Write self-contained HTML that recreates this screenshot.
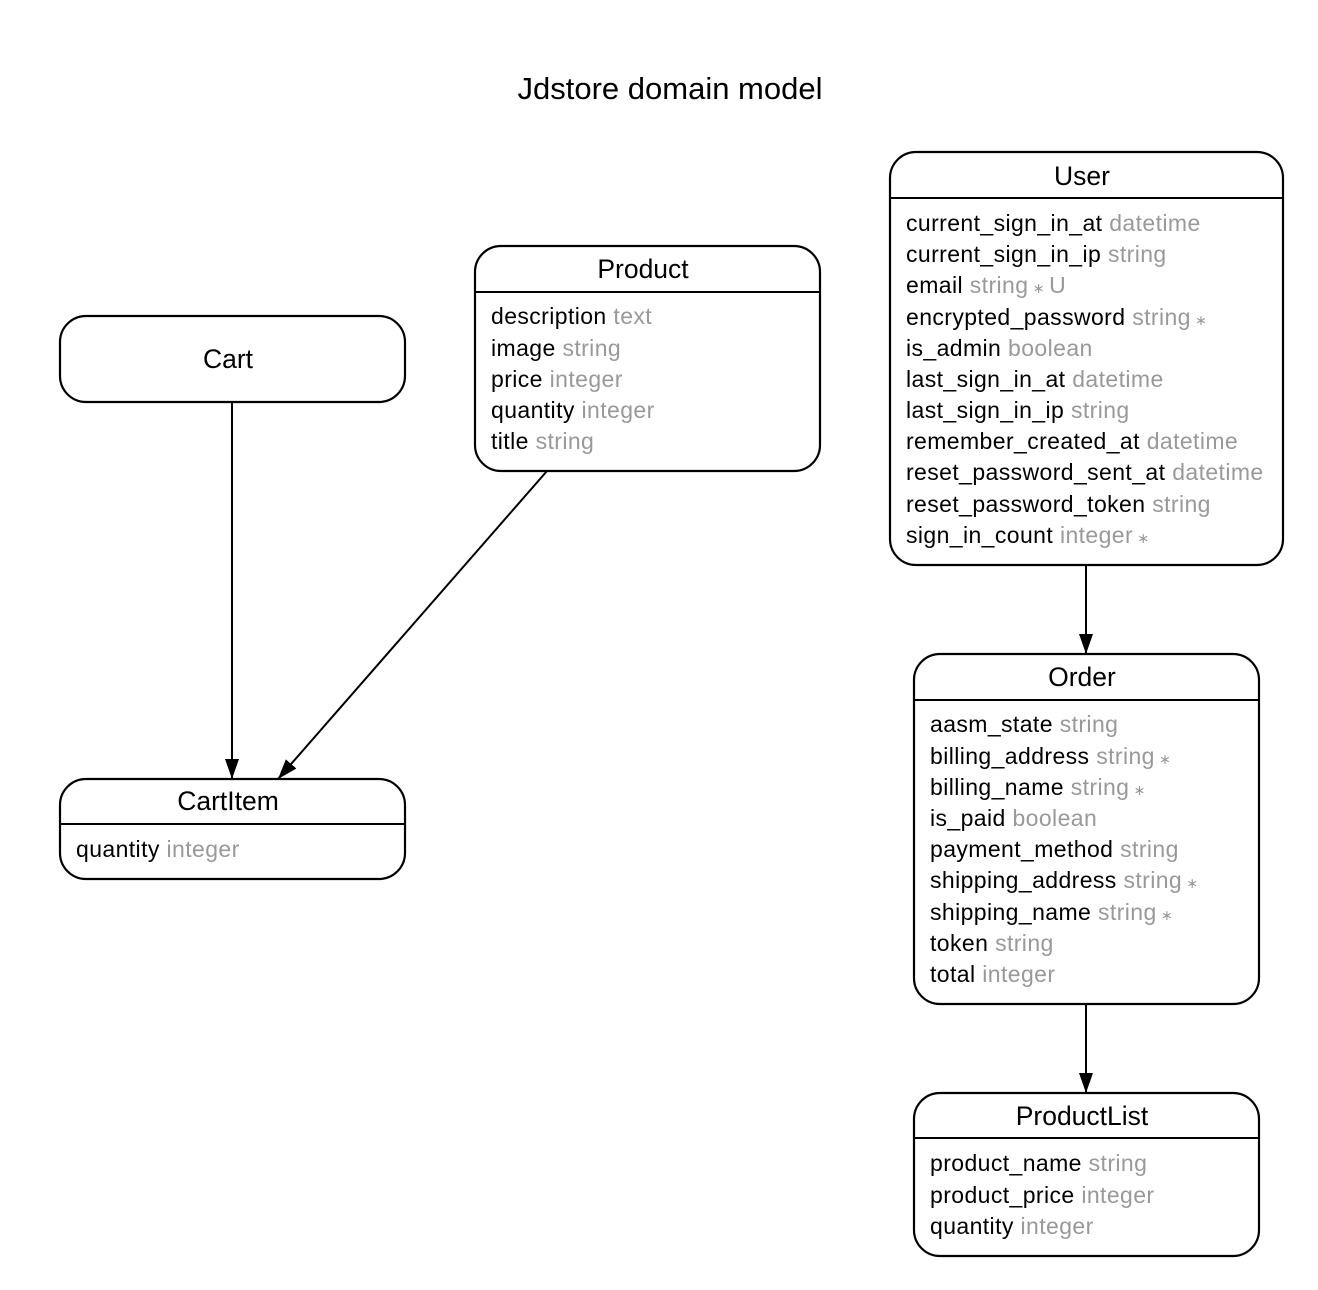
<!DOCTYPE html>
<html><head><meta charset="utf-8"><style>
html,body{margin:0;padding:0;background:#fff;}
svg{display:block;}
text{font-family:"Liberation Sans",sans-serif;}
.t{font-size:26.5px;fill:#000;text-anchor:middle;}
.a{font-size:23px;fill:#000;letter-spacing:0.4px;}
.g{fill:#999;}
.s{font-size:14px;}
.box{fill:#fff;stroke:#000;stroke-width:2.2;}
.ln{stroke:#000;stroke-width:2;}
</style></head><body>
<svg width="1318" height="1290" viewBox="0 0 1318 1290" xmlns="http://www.w3.org/2000/svg">
<defs>
<marker id="ar2" markerWidth="20" markerHeight="20" refX="20" refY="7" orient="auto" markerUnits="userSpaceOnUse" viewBox="0 0 20 14"><path d="M0,0 L20,7 L0,14 z" fill="#000"/></marker></defs>
<text x="670" y="99" style="font-size:31px;text-anchor:middle">Jdstore domain model</text>

<line class="ln" x1="232" y1="402" x2="232" y2="779" marker-end="url(#ar2)"/>
<line class="ln" x1="547" y1="471" x2="278" y2="779" marker-end="url(#ar2)"/>
<line class="ln" x1="1086" y1="565" x2="1086" y2="654" marker-end="url(#ar2)"/>
<line class="ln" x1="1086" y1="1004" x2="1086" y2="1093" marker-end="url(#ar2)"/>

<rect class="box" x="60" y="316" width="345" height="86" rx="26"/>
<text class="t" x="228" y="368">Cart</text>

<rect class="box" x="475" y="246" width="345" height="225" rx="26"/>
<line class="ln" x1="475" y1="292" x2="820" y2="292"/>
<text class="t" x="643" y="278">Product</text>
<text class="a" x="491" y="324">description <tspan class="g">text</tspan></text>
<text class="a" x="491" y="356">image <tspan class="g">string</tspan></text>
<text class="a" x="491" y="387">price <tspan class="g">integer</tspan></text>
<text class="a" x="491" y="418">quantity <tspan class="g">integer</tspan></text>
<text class="a" x="491" y="449">title <tspan class="g">string</tspan></text>

<rect class="box" x="890" y="152" width="393" height="413" rx="26"/>
<line class="ln" x1="890" y1="198" x2="1283" y2="198"/>
<text class="t" x="1082" y="185">User</text>
<text class="a" x="906" y="231">current_sign_in_at <tspan class="g">datetime</tspan></text>
<text class="a" x="906" y="262">current_sign_in_ip <tspan class="g">string</tspan></text>
<text class="a" x="906" y="293">email <tspan class="g">string<tspan class="s"> ∗ </tspan>U</tspan></text>
<text class="a" x="906" y="325">encrypted_password <tspan class="g">string<tspan class="s"> ∗</tspan></tspan></text>
<text class="a" x="906" y="356">is_admin <tspan class="g">boolean</tspan></text>
<text class="a" x="906" y="387">last_sign_in_at <tspan class="g">datetime</tspan></text>
<text class="a" x="906" y="418">last_sign_in_ip <tspan class="g">string</tspan></text>
<text class="a" x="906" y="449">remember_created_at <tspan class="g">datetime</tspan></text>
<text class="a" x="906" y="480">reset_password_sent_at <tspan class="g">datetime</tspan></text>
<text class="a" x="906" y="512">reset_password_token <tspan class="g">string</tspan></text>
<text class="a" x="906" y="543">sign_in_count <tspan class="g">integer<tspan class="s"> ∗</tspan></tspan></text>

<rect class="box" x="914" y="654" width="345" height="350" rx="26"/>
<line class="ln" x1="914" y1="700" x2="1259" y2="700"/>
<text class="t" x="1082" y="686">Order</text>
<text class="a" x="930" y="732">aasm_state <tspan class="g">string</tspan></text>
<text class="a" x="930" y="764">billing_address <tspan class="g">string<tspan class="s"> ∗</tspan></tspan></text>
<text class="a" x="930" y="795">billing_name <tspan class="g">string<tspan class="s"> ∗</tspan></tspan></text>
<text class="a" x="930" y="826">is_paid <tspan class="g">boolean</tspan></text>
<text class="a" x="930" y="857">payment_method <tspan class="g">string</tspan></text>
<text class="a" x="930" y="888">shipping_address <tspan class="g">string<tspan class="s"> ∗</tspan></tspan></text>
<text class="a" x="930" y="920">shipping_name <tspan class="g">string<tspan class="s"> ∗</tspan></tspan></text>
<text class="a" x="930" y="951">token <tspan class="g">string</tspan></text>
<text class="a" x="930" y="982">total <tspan class="g">integer</tspan></text>

<rect class="box" x="914" y="1093" width="345" height="163" rx="26"/>
<line class="ln" x1="914" y1="1138" x2="1259" y2="1138"/>
<text class="t" x="1082" y="1125">ProductList</text>
<text class="a" x="930" y="1171">product_name <tspan class="g">string</tspan></text>
<text class="a" x="930" y="1203">product_price <tspan class="g">integer</tspan></text>
<text class="a" x="930" y="1234">quantity <tspan class="g">integer</tspan></text>

<rect class="box" x="60" y="779" width="345" height="100" rx="26"/>
<line class="ln" x1="60" y1="824" x2="405" y2="824"/>
<text class="t" x="228" y="810">CartItem</text>
<text class="a" x="76" y="857">quantity <tspan class="g">integer</tspan></text>
</svg>
</body></html>
